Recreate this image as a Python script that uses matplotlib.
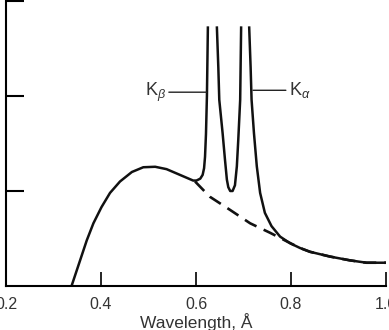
import numpy as np
import matplotlib
matplotlib.use("Agg")
import matplotlib.pyplot as plt

plt.rcParams['font.family'] = ['Liberation Sans', 'DejaVu Sans']
plt.rcParams['mathtext.fontset'] = 'custom'
plt.rcParams['mathtext.rm'] = 'Liberation Sans'
plt.rcParams['mathtext.it'] = 'Liberation Sans:italic'

# Measured spectrum (solid): continuum + K lines (NaN = truncated peak tops)
wl_solid = [0.338, 0.356, 0.370, 0.384, 0.401, 0.419, 0.440, 0.465, 0.489, 0.514,
            0.538, 0.566, 0.594, 0.601, 0.609, 0.614, 0.617, 0.619, 0.621, 0.623, 0.625,
            np.nan,
            0.644, 0.647, 0.649, 0.656, 0.661, 0.665, 0.668, 0.672, 0.677, 0.682,
            0.686, 0.689, 0.693, 0.695,
            np.nan,
            0.712, 0.715, 0.717, 0.722, 0.728, 0.735, 0.745, 0.759, 0.777, 0.798,
            0.819, 0.840, 0.882, 0.924, 0.959, 1.0]
int_solid = [0.0, 0.27, 0.48, 0.66, 0.83, 0.98, 1.10, 1.20, 1.25, 1.255,
             1.23, 1.17, 1.11, 1.11, 1.13, 1.17, 1.24, 1.36, 1.60, 2.00, 2.72,
             np.nan,
             2.72, 2.30, 1.96, 1.61, 1.33, 1.12, 1.04, 1.00, 1.00, 1.06,
             1.26, 1.54, 1.96, 2.72,
             np.nan,
             2.72, 2.30, 1.96, 1.61, 1.26, 0.98, 0.77, 0.63, 0.52, 0.45,
             0.40, 0.36, 0.31, 0.27, 0.245, 0.245]

# Continuum under the lines (dashed)
wl_dash = [0.598, 0.629, 0.672, 0.714, 0.756, 0.791, 0.819, 0.840, 0.882, 0.924, 0.959, 1.0]
int_dash = [1.10, 0.94, 0.80, 0.66, 0.56, 0.47, 0.40, 0.36, 0.31, 0.27, 0.245, 0.245]

x_ticks = [0.2, 0.4, 0.6, 0.8, 1.0]
x_ticklabels = ["0.2", "0.4", "0.6", "0.8", "1.0"]
y_ticks = [1, 2, 3]

fig = plt.figure(figsize=(3.89, 3.30), dpi=100)
ax = fig.add_axes([6/389, 1 - 286/330, 380/389, 286/330 - 0.003])

ax.plot(wl_solid, int_solid, color='#111111', lw=1.8, solid_joinstyle='round')
ax.plot(wl_dash, int_dash, color='#111111', lw=1.9, ls=(0, (5, 3)))

ax.set_xlim(0.2, 1.0)
ax.set_ylim(0, 3)
ax.set_xticks(x_ticks)
ax.set_xticklabels(x_ticklabels, fontsize=11.5, color='#333333')
ax.set_yticks(y_ticks)
ax.set_yticklabels([])
ax.tick_params(axis='x', direction='in', length=10, width=1.2, pad=8)
ax.tick_params(axis='y', direction='in', length=13, width=1.5)
ax.spines['top'].set_visible(False)
ax.spines['right'].set_visible(False)
for s in ['left', 'bottom']:
    ax.spines[s].set_linewidth(1.5)
ax.set_xlabel("Wavelength, Å", fontsize=12.5, color='#333333', labelpad=1)

# Line labels with leader lines
ax.annotate("K$_\\beta$", xy=(0.622, 2.04), xytext=(0.537, 2.04),
            fontsize=13, ha='right', va='center', color='#333333',
            arrowprops=dict(arrowstyle='-', lw=1.0, color='#222222',
                            shrinkA=0, shrinkB=0))
ax.annotate("K$_\\alpha$", xy=(0.720, 2.06), xytext=(0.795, 2.06),
            fontsize=13, ha='left', va='center', color='#333333',
            arrowprops=dict(arrowstyle='-', lw=1.0, color='#222222',
                            shrinkA=0, shrinkB=0))

fig.savefig("out.png", dpi=100)
